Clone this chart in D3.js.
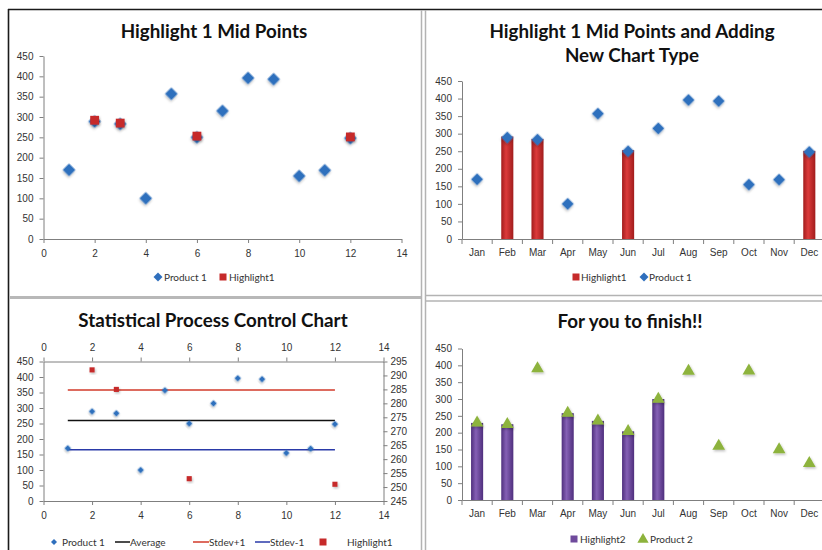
<!DOCTYPE html>
<html>
<head>
<meta charset="utf-8">
<script src="https://cdn.jsdelivr.net/npm/d3@7"></script>
<style>
  html, body { margin: 0; padding: 0; background: #fff; }
  svg { display: block; font-family: Lato, "Open Sans", sans-serif; }
  .tick text { fill: #333; font-size: 10px; }
  .domain, .tick line { stroke: #7f7f7f; }
  .title { font-weight: bold; font-size: 18.8px; fill: #111; text-anchor: middle; }
  .legend text { font-size: 10px; fill: #333; }
</style>
</head>
<body>
<svg id="chart" width="822" height="550"></svg>
<script>
// ---- data ----
const months = ["Jan", "Feb", "Mar", "Apr", "May", "Jun", "Jul", "Aug", "Sep", "Oct", "Nov", "Dec"];
const monthNumbers = [1, 2, 3, 4, 5, 6, 7, 8, 9, 10, 11, 12];
const product1 = [170, 289, 283, 100, 357, 250, 315, 396, 393, 155, 169, 248];
const highlight1Months = [2, 3, 6, 12];
const highlight1 = [292, 285, 253, 251];
const spcAverage = 260;
const spcStdevPlus = 358;
const spcStdevMinus = 165;
const spcLineStart = 1;
const spcLineEnd = 12;
const product2 = [229, 225, 390, 258, 235, 204, 300, 383, 160, 384, 150, 109];
const highlight2Months = ["Jan", "Feb", "Apr", "May", "Jun", "Jul"];
const highlight2 = [229, 225, 258, 235, 204, 300];
const valueTicks = [0, 50, 100, 150, 200, 250, 300, 350, 400, 450];
const xTicks = [0, 2, 4, 6, 8, 10, 12, 14];
const secondaryTicks = [245, 250, 255, 260, 265, 270, 275, 280, 285, 290, 295];

const colors = {
  blue: "#2f6fbd",
  red: "#c62a2a",
  green: "#8db33c",
  purple: "#6f4a9c",
  avg: "#111111",
  upper: "#d23a2a",
  lower: "#2a3aa8"
};

const svg = d3.select("#chart");
const defs = svg.append("defs");

// soft marker shadow
const shadow = defs.append("filter").attr("id", "shadow")
  .attr("x", "-50%").attr("y", "-50%").attr("width", "200%").attr("height", "200%");
shadow.append("feDropShadow").attr("dx", 1).attr("dy", 1.5)
  .attr("stdDeviation", 1).attr("flood-color", "#000").attr("flood-opacity", 0.25);

function barGradient(id, edge, mid) {
  const g = defs.append("linearGradient").attr("id", id)
    .attr("x1", "0%").attr("x2", "100%").attr("y1", "0%").attr("y2", "0%");
  g.append("stop").attr("offset", "0%").attr("stop-color", edge);
  g.append("stop").attr("offset", "40%").attr("stop-color", mid);
  g.append("stop").attr("offset", "100%").attr("stop-color", edge);
}
barGradient("redBar", "#a11c1c", "#dc3b3b");
barGradient("purpleBar", "#4f2f7d", "#8560b5");

// ---- sheet frame ----
const frame = svg.append("g");
frame.append("line").attr("x1", 8).attr("x2", 822).attr("y1", 9.5).attr("y2", 9.5)
  .attr("stroke", "#1a1a1a").attr("stroke-width", 1.6);
frame.append("line").attr("x1", 8.5).attr("x2", 8.5).attr("y1", 9).attr("y2", 550)
  .attr("stroke", "#1a1a1a").attr("stroke-width", 1.6);
[421.5, 425.5].forEach(x => frame.append("line").attr("x1", x).attr("x2", x)
  .attr("y1", 10).attr("y2", 550).attr("stroke", "#b3b3b3").attr("stroke-width", 1.5));
frame.append("line").attr("x1", 9).attr("x2", 421).attr("y1", 297.5).attr("y2", 297.5)
  .attr("stroke", "#b8b8b8").attr("stroke-width", 3);
[295.5, 301].forEach(y => frame.append("line").attr("x1", 425).attr("x2", 822)
  .attr("y1", y).attr("y2", y).attr("stroke", "#b3b3b3").attr("stroke-width", 1.5));

// ---- helpers ----
const diamond = size => d3.symbol().type(d3.symbolSquare).size(size)();
const square = size => d3.symbol().type(d3.symbolSquare).size(size)();
const triangle = size => d3.symbol().type(d3.symbolTriangle).size(size)();

function title(lines, cx, y0, lh) {
  const t = svg.append("text").attr("class", "title").attr("x", cx).attr("y", y0);
  lines.forEach((l, i) => t.append("tspan").attr("x", cx).attr("dy", i ? lh : 0).text(l));
}

function yAxisLeft(g, y, x) {
  g.append("g").attr("transform", `translate(${x},0)`)
    .call(d3.axisLeft(y).tickValues(valueTicks).tickSize(4).tickPadding(6).tickSizeOuter(0));
}

function bandAxis(g, x, yPos) {
  const ax = g.append("g").attr("transform", `translate(0,${yPos})`)
    .call(d3.axisBottom(x).tickSize(0).tickPadding(10).tickSizeOuter(0));
  ax.selectAll(".tick line").remove();
  g.append("g").selectAll("line").data(months.map(m => x(m) - (x.step() - x.bandwidth()) / 2))
    .join("line").attr("x1", d => d).attr("x2", d => d)
    .attr("y1", yPos).attr("y2", yPos + 5).attr("stroke", "#7f7f7f");
}

function legend(items, y) {
  const g = svg.append("g").attr("class", "legend");
  items.forEach(it => {
    if (it.type === "diamond") {
      g.append("path").attr("d", diamond(it.size || 40))
        .attr("transform", `translate(${it.x},${y}) rotate(45)`).attr("fill", it.color);
    } else if (it.type === "square") {
      g.append("rect").attr("x", it.x - 3.5).attr("y", y - 3.5).attr("width", 7).attr("height", 7)
        .attr("fill", it.color);
    } else if (it.type === "triangle") {
      g.append("path").attr("d", triangle(55))
        .attr("transform", `translate(${it.x},${y + 0.5})`).attr("fill", it.color);
    } else if (it.type === "line") {
      g.append("line").attr("x1", it.x).attr("x2", it.x2).attr("y1", y).attr("y2", y)
        .attr("stroke", it.color).attr("stroke-width", 1.5);
    }
    g.append("text").attr("x", it.tx).attr("y", y).attr("dy", "0.35em").text(it.label);
  });
}

// ---- panel 1: scatter with highlighted points ----
{
  const g = svg.append("g");
  const x = d3.scaleLinear().domain([0, 14]).range([43.5, 401.5]);
  const y = d3.scaleLinear().domain([0, 450]).range([239, 56]);
  title(["Highlight 1 Mid Points"], 214, 37.5, 0);
  yAxisLeft(g, y, 43.5);
  g.append("g").attr("transform", "translate(0,239)")
    .call(d3.axisBottom(x).tickValues(xTicks).tickSize(4).tickPadding(7).tickSizeOuter(0));
  g.append("g").selectAll("path").data(product1).join("path")
    .attr("d", diamond(80))
    .attr("transform", (d, i) => `translate(${x(monthNumbers[i])},${y(d)}) rotate(45)`)
    .attr("fill", colors.blue).attr("filter", "url(#shadow)");
  g.append("g").selectAll("path").data(highlight1).join("path")
    .attr("d", square(78))
    .attr("transform", (d, i) => `translate(${x(highlight1Months[i])},${y(d)})`)
    .attr("fill", colors.red).attr("filter", "url(#shadow)");
  legend([
    { type: "diamond", x: 158, tx: 164, label: "Product 1", color: colors.blue },
    { type: "square", x: 223, tx: 229, label: "Highlight1", color: colors.red }
  ], 277);
}

// ---- panel 2: highlighted months as columns ----
{
  const g = svg.append("g");
  const x = d3.scaleBand().domain(months).range([462, 824.4]).paddingInner(0.6).paddingOuter(0.3);
  const y = d3.scaleLinear().domain([0, 450]).range([239, 81]);
  title(["Highlight 1 Mid Points and Adding", "New Chart Type"], 632, 37.5, 24);
  const hlNames = highlight1Months.map(n => months[n - 1]);
  g.append("g").selectAll("rect").data(highlight1).join("rect")
    .attr("x", (d, i) => x(hlNames[i])).attr("width", x.bandwidth())
    .attr("y", d => y(d)).attr("height", d => y(0) - y(d))
    .attr("fill", "url(#redBar)");
  yAxisLeft(g, y, 462);
  bandAxis(g, x, 239);
  g.append("g").selectAll("path").data(product1).join("path")
    .attr("d", diamond(74))
    .attr("transform", (d, i) => `translate(${x(months[i]) + x.bandwidth() / 2},${y(d)}) rotate(45)`)
    .attr("fill", colors.blue).attr("filter", "url(#shadow)");
  legend([
    { type: "square", x: 576, tx: 581, label: "Highlight1", color: colors.red },
    { type: "diamond", x: 644, tx: 649, label: "Product 1", color: colors.blue }
  ], 277);
}

// ---- panel 3: statistical process control ----
{
  const g = svg.append("g");
  const x = d3.scaleLinear().domain([0, 14]).range([43.5, 383.5]);
  const y = d3.scaleLinear().domain([0, 450]).range([501, 361.5]);
  const y2 = d3.scaleLinear().domain([245, 295]).range([501, 361.5]);
  title(["Statistical Process Control Chart"], 213, 326.5, 0);
  yAxisLeft(g, y, 43.5);
  g.append("g").attr("transform", "translate(383.5,0)")
    .call(d3.axisRight(y2).tickValues(secondaryTicks).tickSize(4).tickPadding(3).tickSizeOuter(0));
  g.append("g").attr("transform", "translate(0,501)")
    .call(d3.axisBottom(x).tickValues(xTicks).tickSize(4).tickPadding(7).tickSizeOuter(0));
  g.append("g").attr("transform", "translate(0,361.5)")
    .call(d3.axisTop(x).tickValues(xTicks).tickSize(4).tickPadding(7).tickSizeOuter(0));
  const refLines = [
    { v: spcStdevPlus, c: colors.upper },
    { v: spcAverage, c: colors.avg },
    { v: spcStdevMinus, c: colors.lower }
  ];
  g.append("g").selectAll("line").data(refLines).join("line")
    .attr("x1", x(spcLineStart)).attr("x2", x(spcLineEnd))
    .attr("y1", d => y(d.v)).attr("y2", d => y(d.v))
    .attr("stroke", d => d.c).attr("stroke-width", 1.5);
  g.append("g").selectAll("path").data(product1).join("path")
    .attr("d", diamond(22))
    .attr("transform", (d, i) => `translate(${x(monthNumbers[i])},${y(d)}) rotate(45)`)
    .attr("fill", colors.blue).attr("filter", "url(#shadow)");
  g.append("g").selectAll("path").data(highlight1).join("path")
    .attr("d", square(26))
    .attr("transform", (d, i) => `translate(${x(highlight1Months[i])},${y2(d)})`)
    .attr("fill", colors.red).attr("filter", "url(#shadow)");
  legend([
    { type: "diamond", x: 54, tx: 62, label: "Product 1", color: colors.blue, size: 18 },
    { type: "line", x: 115, x2: 130, tx: 130, label: "Average", color: colors.avg },
    { type: "line", x: 193, x2: 209, tx: 209, label: "Stdev+1", color: colors.upper },
    { type: "line", x: 255, x2: 270, tx: 270, label: "Stdev-1", color: colors.lower },
    { type: "square", x: 323, tx: 347, label: "Highlight1", color: colors.red }
  ], 542);
}

// ---- panel 4: product 2 with highlight columns ----
{
  const g = svg.append("g");
  const x = d3.scaleBand().domain(months).range([462, 824.4]).paddingInner(0.6).paddingOuter(0.3);
  const y = d3.scaleLinear().domain([0, 450]).range([500, 348.5]);
  title(["For you to finish!!"], 630, 327.5, 0);
  g.append("g").selectAll("rect").data(highlight2).join("rect")
    .attr("x", (d, i) => x(highlight2Months[i])).attr("width", x.bandwidth())
    .attr("y", d => y(d)).attr("height", d => y(0) - y(d))
    .attr("fill", "url(#purpleBar)");
  yAxisLeft(g, y, 462);
  bandAxis(g, x, 500);
  g.append("g").selectAll("path").data(product2).join("path")
    .attr("d", triangle(70))
    .attr("transform", (d, i) => `translate(${x(months[i]) + x.bandwidth() / 2},${y(d)})`)
    .attr("fill", colors.green).attr("filter", "url(#shadow)");
  legend([
    { type: "square", x: 574, tx: 580, label: "Highlight2", color: colors.purple },
    { type: "triangle", x: 643, tx: 650, label: "Product 2", color: colors.green }
  ], 539);
}
</script>
</body>
</html>
